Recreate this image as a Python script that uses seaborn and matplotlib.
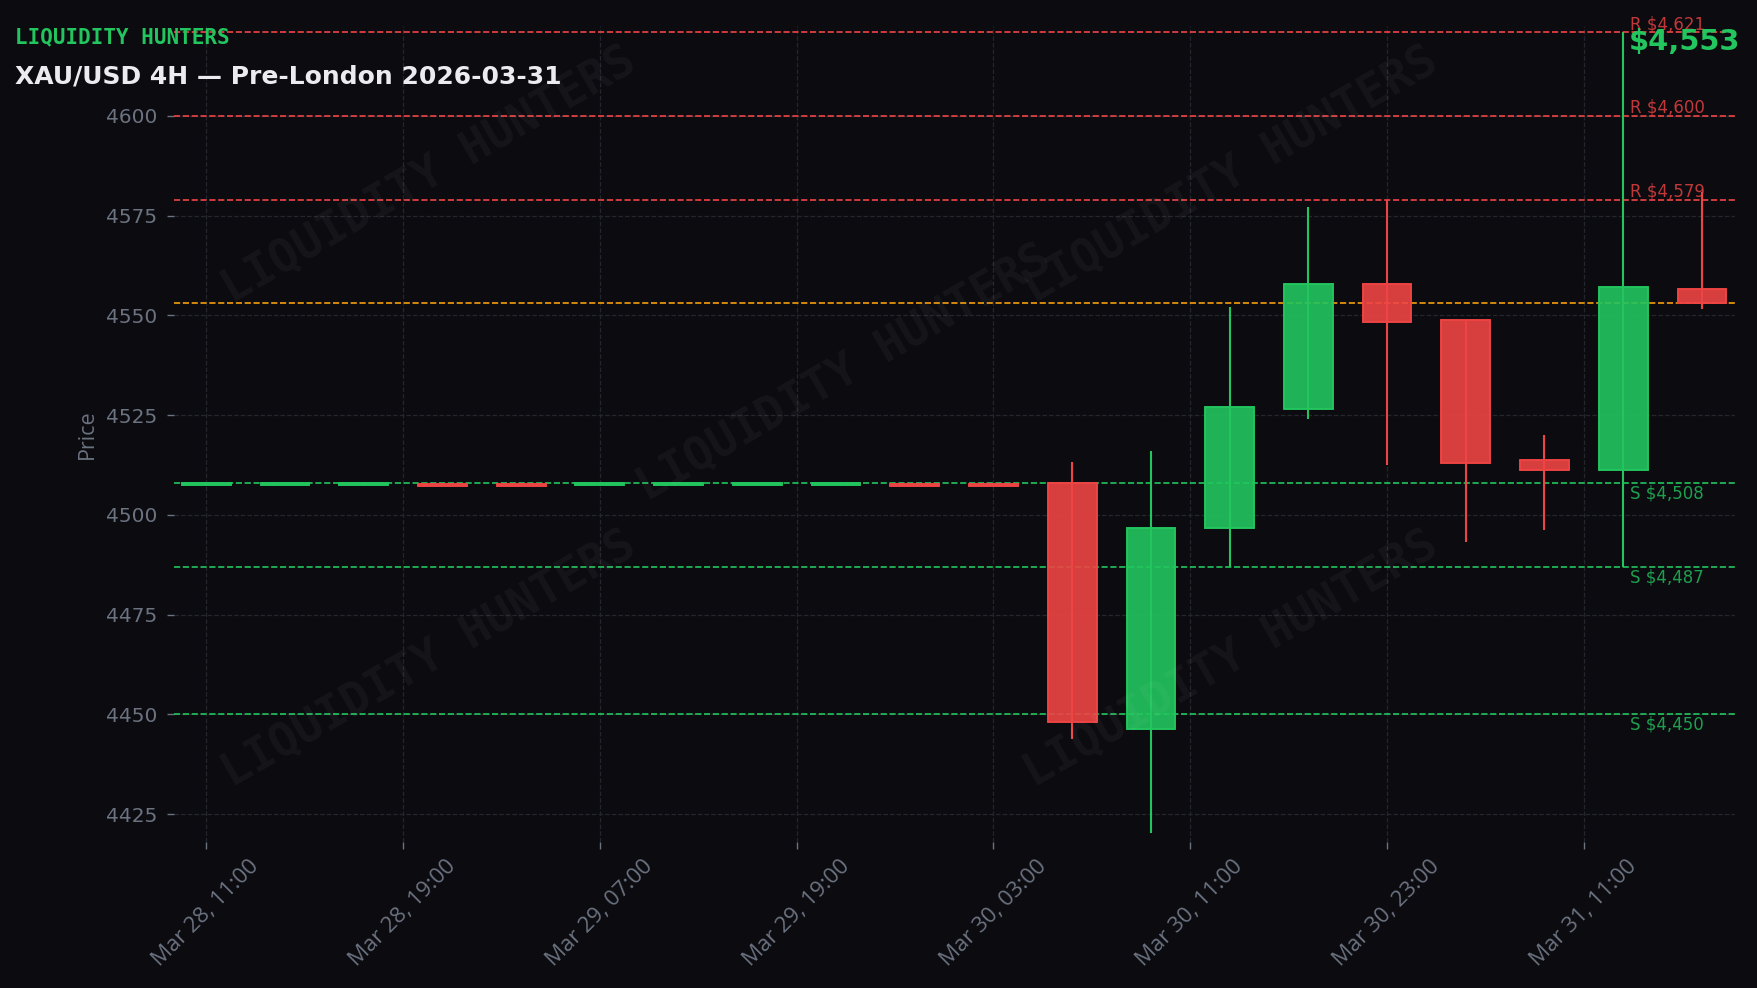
import numpy as np
import pandas as pd
import matplotlib
matplotlib.use("Agg")
import matplotlib.pyplot as plt
import seaborn as sns

# ---------------- data ----------------
opens = [4507.5, 4507.5, 4507.5, 4507.8, 4507.8, 4507.5, 4507.5, 4507.5, 4507.5, 4507.8,
         4507.8, 4508.0, 4446.4, 4496.6, 4526.6, 4557.8, 4548.8, 4513.7, 4511.3, 4556.7]
highs = [4508.0, 4508.0, 4508.0, 4507.8, 4507.8, 4508.0, 4508.0, 4508.0, 4508.0, 4507.8,
         4507.8, 4513.2, 4516.0, 4552.1, 4577.1, 4578.9, 4548.8, 4520.0, 4621.0, 4581.0]
lows = [4507.5, 4507.5, 4507.5, 4507.3, 4507.3, 4507.5, 4507.5, 4507.5, 4507.5, 4507.3,
        4507.3, 4443.8, 4420.3, 4487.0, 4524.1, 4512.5, 4493.2, 4496.2, 4487.0, 4551.5]
closes = [4508.0, 4508.0, 4508.0, 4507.3, 4507.3, 4508.0, 4508.0, 4508.0, 4508.0, 4507.3,
          4507.3, 4448.1, 4496.6, 4526.9, 4557.8, 4548.4, 4513.1, 4511.3, 4557.0, 4553.0]

tick_labels = ["Mar 28, 11:00", "Mar 28, 19:00", "Mar 29, 07:00", "Mar 29, 19:00",
               "Mar 30, 03:00", "Mar 30, 11:00", "Mar 30, 23:00", "Mar 31, 11:00"]

resistance = [4621, 4600, 4579]
support = [4508, 4487, 4450]
current_price = 4553

brand = "LIQUIDITY HUNTERS"
title = "XAU/USD 4H \u2014 Pre-London 2026-03-31"

# ---------------- style ----------------
BG = "#0b0b10"
GREEN = "#22c55e"
RED = "#ef4444"
ORANGE = "#f59e0b"
GRAY = "#6b7280"
GRID = "#24262e"

sns.set_theme(style="darkgrid", rc={
    "figure.facecolor": BG,
    "axes.facecolor": BG,
    "axes.edgecolor": BG,
    "grid.color": GRID,
    "grid.linestyle": "--",
    "grid.linewidth": 0.9,
    "xtick.color": GRAY,
    "ytick.color": GRAY,
    "axes.labelcolor": GRAY,
    "xtick.bottom": True,
    "ytick.left": True,
})
plt.rcParams["font.family"] = ["DejaVu Sans"]

df = pd.DataFrame({"open": opens, "high": highs, "low": lows, "close": closes})
df["idx"] = np.arange(len(df))
df["up"] = df["close"] >= df["open"]

fig = plt.figure(figsize=(17.58, 9.88), dpi=100)
ax = fig.add_axes([174 / 1758, 1 - 842 / 988, (1735 - 174) / 1758, (842 - 26) / 988])

colors = np.where(df["up"], GREEN, RED)

# wicks
ax.vlines(df["idx"], df["low"], df["high"], colors=colors, linewidth=1.5, zorder=3)
# bodies
body_bottom = np.minimum(df["open"], df["close"])
body_height = np.abs(df["close"] - df["open"])
ax.bar(df["idx"], body_height, bottom=body_bottom, width=0.62, color=colors,
       alpha=0.9, edgecolor=colors, linewidth=1.2, zorder=4)
ax.bar(df["idx"], body_height, bottom=body_bottom, width=0.62, facecolor="none",
       edgecolor=colors, linewidth=1.2, zorder=5)

# levels
label_x = 18.08
for r in resistance:
    ax.axhline(r, color=RED, linestyle="--", linewidth=1.2, zorder=2)
    ax.text(label_x, r - 0.3, f"R ${r:,}", color=RED, alpha=0.8, fontsize=12,
            ha="left", va="bottom", zorder=6)
for s in support:
    ax.axhline(s, color=GREEN, linestyle="--", linewidth=1.2, zorder=2)
    ax.text(label_x, s - 0.4, f"S ${s:,}", color=GREEN, alpha=0.8, fontsize=12,
            ha="left", va="top", zorder=6)
ax.axhline(current_price, color=ORANGE, linestyle="--", linewidth=1.2, zorder=2)

ax.set_xlim(-0.41, 19.42)
ax.set_ylim(4418, 4622.5)
ax.set_xticks(np.arange(len(tick_labels)) * 2.5)
ax.set_xticklabels(tick_labels, rotation=45, ha="center", fontsize=16,
                   family=["Open Sans", "DejaVu Sans"])
ax.set_yticks(np.arange(4425, 4601, 25))
ax.tick_params(axis="y", labelsize=14.5, length=5, width=1, pad=7, color=GRAY)
ax.tick_params(axis="x", length=5, width=1, pad=5, color=GRAY)
ax.set_ylabel("Price", fontsize=15.5, family=["Open Sans", "DejaVu Sans"])
ax.yaxis.set_label_coords(-0.049, 0.5)
ax.grid(True, linestyle="--", color=GRID, linewidth=0.9)
for sp in ax.spines.values():
    sp.set_visible(False)

# watermark
for (wx, wy) in [(0.244, 0.822), (0.70, 0.822), (0.48, 0.622), (0.244, 0.333), (0.70, 0.333)]:
    fig.text(wx, wy, brand, rotation=30, ha="center", va="center", fontsize=33,
             family="DejaVu Sans Mono", fontweight="bold", color="white", alpha=0.045,
             zorder=10)

# header texts
fig.text(15 / 1758, 1 - 37 / 988, brand, color=GREEN, fontsize=15, fontweight="bold",
         family="DejaVu Sans Mono", ha="left", va="center")
fig.text(15 / 1758, 1 - 76 / 988, title, color="#ececf0", fontsize=18, fontweight="bold",
         ha="left", va="center")
fig.text(0.990, 1 - 41.5 / 988, f"${current_price:,}", color=GREEN, fontsize=20.8,
         fontweight="bold", ha="right", va="center")

fig.savefig("out.png", dpi=100, facecolor=BG)
